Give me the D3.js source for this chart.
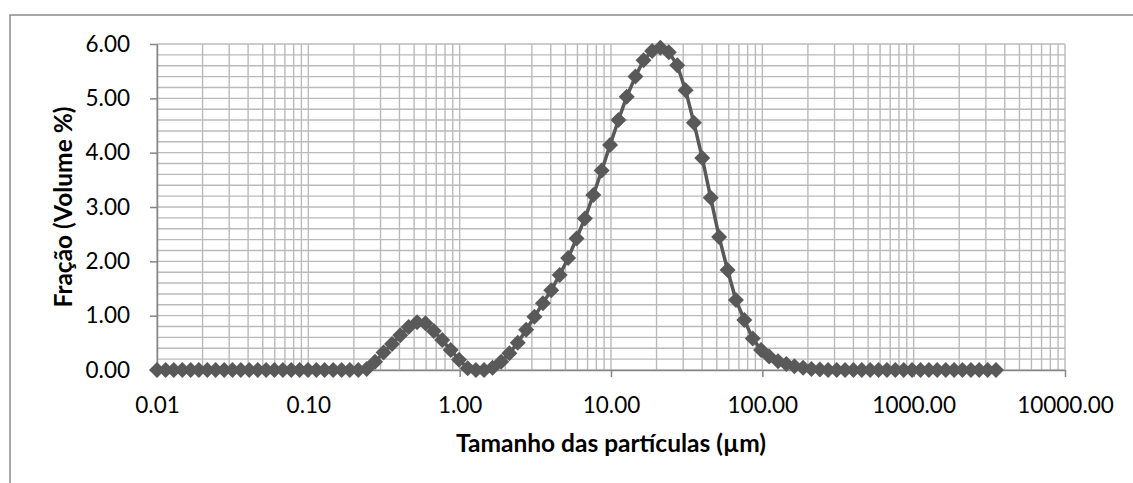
<!DOCTYPE html>
<html>
<head>
<meta charset="utf-8">
<script src="https://cdn.jsdelivr.net/npm/d3@7"></script>
<style>
  body { margin: 0; background: #fff; }
  svg { display: block; font-family: Lato, "Open Sans", sans-serif; }
</style>
</head>
<body>
<div id="chart"></div>
<script>
// particle size classes (µm)
const sizes = [
    0.0100, 0.0114, 0.0129, 0.0147, 0.0167, 0.0189, 0.0215, 0.0244, 0.0278, 0.0315,
    0.0358, 0.0407, 0.0463, 0.0526, 0.0597, 0.0679, 0.0771, 0.0876, 0.0995, 0.113,
    0.128, 0.146, 0.166, 0.188, 0.214, 0.243, 0.276, 0.314, 0.357, 0.405,
    0.460, 0.523, 0.594, 0.675, 0.767, 0.872, 0.991, 1.13, 1.28, 1.45,
    1.65, 1.88, 2.13, 2.42, 2.75, 3.12, 3.55, 4.03, 4.58, 5.21,
    5.92, 6.72, 7.64, 8.68, 9.86, 11.2, 12.7, 14.5, 16.4, 18.7,
    21.2, 24.1, 27.4, 31.1, 35.3, 40.1, 45.6, 51.8, 58.9, 66.9,
    76.0, 86.4, 98.1, 111, 127, 144, 163, 186, 211, 240,
    272, 310, 352, 400, 454, 516, 586, 666, 756, 859,
    976, 1110, 1260, 1430, 1630, 1850, 2100, 2390, 2710, 3080,
    3500
];

// volume fraction (%)
const volumes = [
    0, 0, 0, 0, 0, 0, 0, 0, 0, 0,
    0, 0, 0, 0, 0, 0, 0, 0, 0, 0,
    0, 0, 0, 0, 0, 0.02, 0.15, 0.32, 0.48, 0.64,
    0.79, 0.88, 0.86, 0.72, 0.55, 0.37, 0.19, 0.03, 0, 0,
    0.04, 0.15, 0.31, 0.50, 0.74, 0.98, 1.23, 1.47, 1.75, 2.06,
    2.42, 2.79, 3.22, 3.67, 4.14, 4.60, 5.03, 5.40, 5.70, 5.87,
    5.93, 5.85, 5.61, 5.15, 4.55, 3.90, 3.17, 2.45, 1.84, 1.29,
    0.92, 0.58, 0.37, 0.25, 0.16, 0.11, 0.07, 0.04, 0.02, 0.01,
    0, 0, 0, 0, 0, 0, 0, 0, 0, 0,
    0, 0, 0, 0, 0, 0, 0, 0, 0, 0,
    0
];

const xTicks = [0.01, 0.1, 1, 10, 100, 1000, 10000];
const yTicks = [0, 1, 2, 3, 4, 5, 6];

const xTitle = "Tamanho das partículas (µm)";
const yTitle = "Fração (Volume %)";

function init() {
    const width = 1133;
    const height = 483;

    const left = 157, right = 1065, top = 44, bottom = 370;

    const x = d3.scaleLog().domain([0.01, 10000]).range([left, right]);
    const y = d3.scaleLinear().domain([0, 6]).range([bottom, top]);

    const svg = d3.select("#chart")
        .append("svg")
        .attr("width", width)
        .attr("height", height);

    // chart frame (only top and left edges visible)
    svg.append("path")
        .attr("d", "M10,483 L10,15 L1133,15")
        .attr("fill", "none")
        .attr("stroke", "#8a8a8a")
        .attr("stroke-width", 1.5);

    // gridlines
    const vLines = [];
    for (let e = -2; e < 4; e++) {
        for (let k = 1; k < 10; k++) vLines.push(k * Math.pow(10, e));
    }
    vLines.push(10000);
    const hLines = d3.range(0, 31).map(i => i * 0.2);

    const grid = svg.append("g")
        .attr("stroke", "#bababa")
        .attr("stroke-width", 1.4);

    grid.selectAll(".v")
        .data(vLines)
        .enter().append("line")
        .attr("x1", d => x(d)).attr("x2", d => x(d))
        .attr("y1", top).attr("y2", bottom);

    grid.selectAll(".h")
        .data(hLines)
        .enter().append("line")
        .attr("x1", left).attr("x2", right)
        .attr("y1", d => y(d)).attr("y2", d => y(d));

    // axes
    const xAxis = svg.append("g")
        .attr("transform", `translate(0,${bottom})`)
        .call(d3.axisBottom(x)
            .tickValues(xTicks)
            .tickFormat(d3.format(".2f"))
            .tickSize(7)
            .tickSizeOuter(0)
            .tickPadding(20));

    const yAxis = svg.append("g")
        .attr("transform", `translate(${left},0)`)
        .call(d3.axisLeft(y)
            .tickValues(yTicks)
            .tickFormat(d3.format(".2f"))
            .tickSize(7)
            .tickSizeOuter(0)
            .tickPadding(20));

    [xAxis, yAxis].forEach(function (a) {
        a.select(".domain").attr("stroke", "#868686").attr("stroke-width", 1.5);
        a.selectAll(".tick line").attr("stroke", "#868686").attr("stroke-width", 1.5);
        a.selectAll(".tick text")
            .attr("fill", "#000")
            .style("font-size", "22.5px")
            .style("font-family", "Lato, sans-serif");
    });

    // titles
    svg.append("text")
        .attr("x", (left + right) / 2)
        .attr("y", 452)
        .attr("text-anchor", "middle")
        .style("font-size", "24.5px")
        .style("font-weight", "bold")
        .text(xTitle);

    svg.append("text")
        .attr("transform", `translate(72,${(top + bottom) / 2}) rotate(-90)`)
        .attr("text-anchor", "middle")
        .style("font-size", "24.5px")
        .style("font-weight", "bold")
        .text(yTitle);

    // series
    const points = sizes.map((s, i) => ({ size: s, vol: volumes[i] }));

    const line = d3.line()
        .x(d => x(d.size))
        .y(d => y(d.vol));

    svg.append("path")
        .datum(points)
        .attr("fill", "none")
        .attr("stroke", "#595959")
        .attr("stroke-width", 3.5)
        .attr("stroke-linejoin", "round")
        .attr("d", line);

    const r = 8;
    svg.append("g")
        .selectAll("path")
        .data(points)
        .enter().append("path")
        .attr("transform", d => `translate(${x(d.size)},${y(d.vol)})`)
        .attr("d", `M0,${-r}L${r},0L0,${r}L${-r},0Z`)
        .attr("fill", "#595959");
}

window.onload = init;
</script>
</body>
</html>
